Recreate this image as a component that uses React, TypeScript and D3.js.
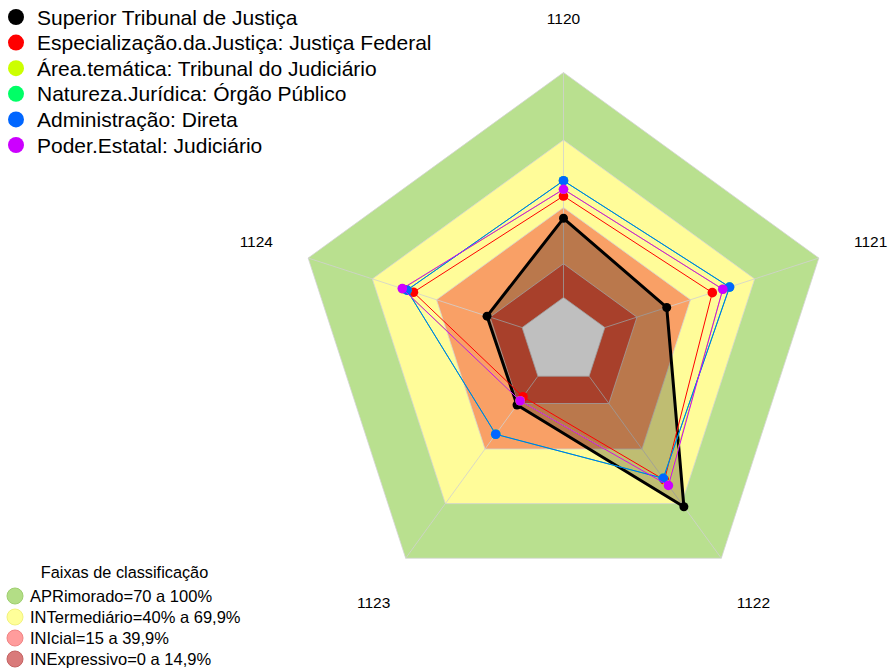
import React from "react";
import * as d3 from "d3";

const axes = ["1120", "1121", "1122", "1123", "1124"];

const seriesNames = [
  "Superior Tribunal de Justiça",
  "Especialização.da.Justiça: Justiça Federal",
  "Área.temática: Tribunal do Judiciário",
  "Natureza.Jurídica: Órgão Público",
  "Administração: Direta",
  "Poder.Estatal: Judiciário",
];
const seriesColors = ["#000000", "#FF0000", "#CCFF00", "#00FF66", "#0066FF", "#CC00FF"];

const stjValues = [35.2, 28.9, 71.7, 15.8, 16.4];
const justicaFederalValues = [45.1, 50.2, 57.0, 11.3, 50.8];
const areaTematicaValues = [48.1, 55.1, 59.6, 13.5, 55.8];
const naturezaValues = [51.9, 58.2, 56.1, 31.9, 53.8];
const administracaoValues = [51.9, 58.3, 56.1, 31.9, 53.8];
const poderValues = [48.1, 55.1, 60.0, 13.5, 56.0];

const seriesValues = [
  stjValues,
  justicaFederalValues,
  areaTematicaValues,
  naturezaValues,
  administracaoValues,
  poderValues,
];

const bandLimits = [100, 70, 40, 15];
const bandFills = ["#b9e08f", "#fffc99", "#f9a066", "#e0563a"];
const bandLegendLabels = [
  "APRimorado=70 a 100%",
  "INTermediário=40% a 69,9%",
  "INIcial=15 a 39,9%",
  "INExpressivo=0 a 14,9%",
];
const bandLegendColors = ["#b3de86", "#ffff99", "#ff9c9c", "#d97a7a"];
const bandLegendStroke = ["#9fcf70", "#f2f27e", "#f08484", "#c46363"];

const W = 889;
const H = 668;
const cx = 563.5;
const cy = 341;

export default function App() {
  const r = d3.scaleLinear().domain([0, 100]).range([43.5, 268.5]);
  const angle = d3
    .scalePoint<string>()
    .domain(axes)
    .range([0, (2 * Math.PI * (axes.length - 1)) / axes.length]);

  const radial = (vals: number[]) =>
    d3
      .lineRadial<number>()
      .angle((_, i) => angle(axes[i]) as number)
      .radius((v) => r(v))
      .curve(d3.curveLinearClosed)(vals) as string;

  const pt = (v: number, i: number) => {
    const a = angle(axes[i]) as number;
    return [Math.sin(a) * r(v), -Math.cos(a) * r(v)];
  };

  const font = "'Liberation Sans', Arial, sans-serif";

  return (
    <svg
      width={W}
      height={H}
      style={{ position: "fixed", left: 0, top: 0, background: "#fff" }}
      fontFamily={font}
    >
      <g transform={`translate(${cx},${cy})`}>
        {bandLimits.map((b, k) => (
          <path
            key={"band" + k}
            d={radial(axes.map(() => b))}
            fill={bandFills[k]}
            stroke="#d4d4d4"
            strokeWidth={0.8}
          />
        ))}
        <path d={radial(axes.map(() => 0))} fill="#ffffff" stroke="#d4d4d4" strokeWidth={0.8} />
        {axes.map((a, i) => {
          const [x0, y0] = pt(0, i);
          const [x1, y1] = pt(100, i);
          return (
            <line key={"sp" + a} x1={x0} y1={y0} x2={x1} y2={y1} stroke="#d0d0d0" strokeWidth={0.8} />
          );
        })}
        {axes.map((a, i) => {
          const ang = angle(a) as number;
          const rl = 323;
          return (
            <text
              key={"lab" + a}
              x={Math.sin(ang) * rl}
              y={-Math.cos(ang) * rl}
              textAnchor="middle"
              dominantBaseline="central"
              fontSize={15.5}
              fill="#000"
            >
              {a}
            </text>
          );
        })}
        {seriesValues.map((vals, s) => (
          <g key={"s" + s}>
            <path
              d={radial(vals)}
              fill={s === 0 ? "rgba(0,0,0,0.25)" : "none"}
              stroke={seriesColors[s]}
              strokeWidth={s === 0 ? 3 : 1}
              strokeLinejoin="round"
            />
            {vals.map((v, i) => {
              const [x, y] = pt(v, i);
              return <circle key={i} cx={x} cy={y} r={s === 0 ? 4.5 : 4.8} fill={seriesColors[s]} />;
            })}
          </g>
        ))}
      </g>

      {seriesNames.map((n, i) => (
        <g key={"lg" + i} transform={`translate(0,${17 + i * 25.6})`}>
          <circle cx={16} cy={0} r={8} fill={seriesColors[i]} />
          <text x={37} y={0} dominantBaseline="central" fontSize={21} fill="#000">
            {n}
          </text>
        </g>
      ))}

      <text x={124.5} y={572} textAnchor="middle" dominantBaseline="central" fontSize={16.3} fill="#000">
        Faixas de classificação
      </text>
      {bandLegendLabels.map((l, i) => (
        <g key={"bl" + i} transform={`translate(0,${596 + i * 21})`}>
          <circle cx={15} cy={0} r={8} fill={bandLegendColors[i]} stroke={bandLegendStroke[i]} strokeWidth={1} />
          <text x={30} y={0} dominantBaseline="central" fontSize={16.5} fill="#000">
            {l}
          </text>
        </g>
      ))}
    </svg>
  );
}
